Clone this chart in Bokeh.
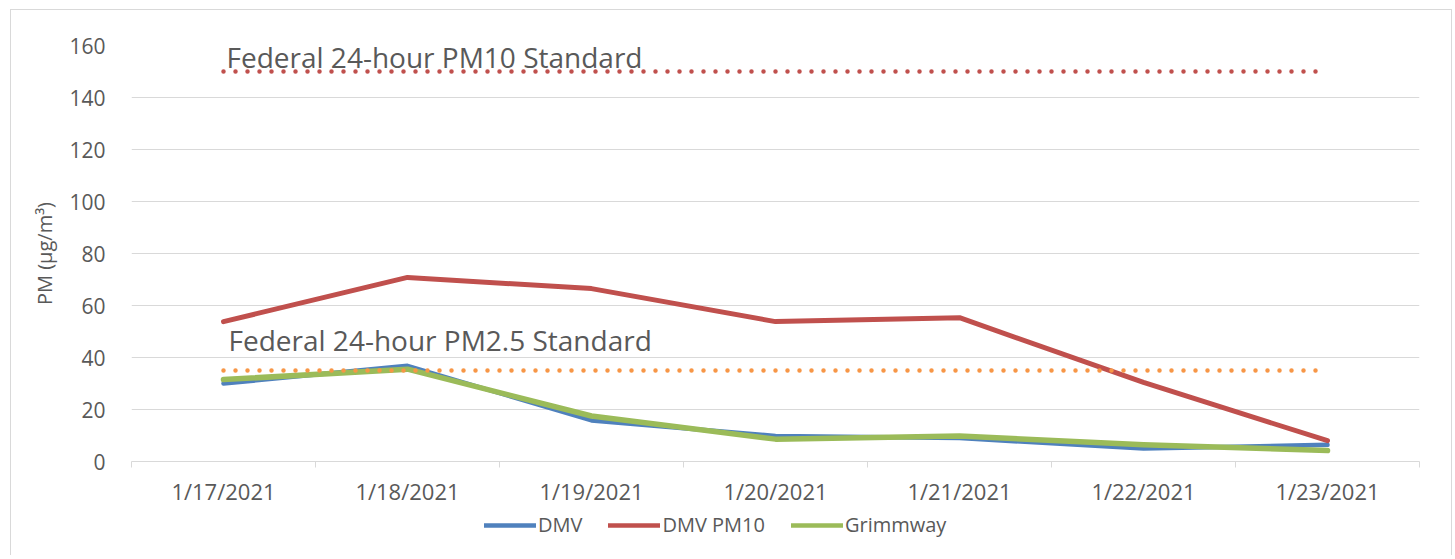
from bokeh.plotting import figure
from bokeh.layouts import column
from bokeh.models import FixedTicker, Legend, LegendItem, Label, InlineStyleSheet, Range1d
from bokeh.embed import file_html
from bokeh.resources import INLINE

dates = ["1/17/2021", "1/18/2021", "1/19/2021", "1/20/2021", "1/21/2021", "1/22/2021", "1/23/2021"]
dmv = [30.0, 36.8, 15.8, 9.8, 9.0, 5.0, 6.4]
dmv_pm10 = [53.8, 70.8, 66.5, 53.8, 55.3, 30.4, 8.0]
grimmway = [31.5, 35.5, 17.5, 8.6, 9.8, 6.4, 4.2]
pm10_standard = 150
pm25_standard = 35
pm10_label = "Federal 24-hour PM10 Standard"
pm25_label = "Federal 24-hour PM2.5 Standard"
series_names = ["DMV", "DMV PM10", "Grimmway"]
y_ticks = [0, 20, 40, 60, 80, 100, 120, 140, 160]

FONT = "Open Sans"
GREY = "#595959"
GRID = "#D9D9D9"
COLORS = ["#4F81BD", "#C0504D", "#9BBB59"]
WIDTHS = [4.5, 5, 5.5]

xs = [i + 0.5 for i in range(len(dates))]
series = [dmv, dmv_pm10, grimmway]

p = figure(frame_width=1288, frame_height=416, output_backend="svg", toolbar_location=None,
           x_range=(0, len(dates)), y_range=(0, 160),
           min_border_left=131, min_border_right=33, min_border_top=45, min_border_bottom=50)
p.outline_line_color = None
p.background_fill_color = "white"
p.border_fill_color = "white"
p.stylesheets = [InlineStyleSheet(css=(
    ":host { position: relative; }"
    ":host::after { content: ''; position: absolute; left: 10px; top: 9px; right: 0px; bottom: 0px;"
    " border: 1px solid #D9D9D9; border-bottom: none; pointer-events: none; }"))]

# x axis
p.xaxis.ticker = FixedTicker(ticks=xs, minor_ticks=list(range(len(dates) + 1)))
p.xaxis.major_label_overrides = {x: d for x, d in zip(xs, dates)}
p.xaxis.major_tick_line_color = None
p.xaxis.major_tick_out = 0
p.xaxis.major_tick_in = 0
p.xaxis.minor_tick_line_color = GRID
p.xaxis.minor_tick_out = 6
p.xaxis.minor_tick_in = 0
p.xaxis.axis_line_color = GRID
p.xaxis.major_label_text_font = FONT
p.xaxis.major_label_text_font_size = "22px"
p.xaxis.major_label_text_color = GREY
p.xaxis.major_label_standoff = 8
p.xgrid.grid_line_color = None

# y axis
p.yaxis.ticker = FixedTicker(ticks=y_ticks)
p.yaxis.axis_line_color = None
p.yaxis.major_tick_line_color = None
p.yaxis.minor_tick_line_color = None
p.yaxis.major_label_text_font = FONT
p.yaxis.major_label_text_font_size = "21px"
p.yaxis.major_label_text_color = GREY
p.yaxis.major_label_standoff = 20
p.yaxis.axis_label = "PM (\u00b5g/m\u00b3)"
p.yaxis.axis_label_text_font = FONT
p.yaxis.axis_label_text_font_size = "20px"
p.yaxis.axis_label_text_font_style = "normal"
p.yaxis.axis_label_text_color = GREY
p.yaxis.axis_label_standoff = 8
p.ygrid.grid_line_color = GRID
p.ygrid.grid_line_width = 1

for vals, c, w in zip(series, COLORS, WIDTHS):
    p.line(xs, vals, line_color=c, line_width=w, line_cap="round", line_join="round")

p.line(xs, [pm10_standard] * len(xs), line_color="#C0504D", line_width=4.5, line_dash="0 12", line_cap="round")
p.line(xs, [pm25_standard] * len(xs), line_color="#F79646", line_width=4.5, line_dash="0 12", line_cap="round")

p.add_layout(Label(x=xs[0], y=pm10_standard, text=pm10_label, x_offset=3, y_offset=15,
                   text_font=FONT, text_font_size="28px", text_color=GREY,
                   text_baseline="middle"))
p.add_layout(Label(x=xs[0], y=pm25_standard, text=pm25_label, x_offset=5, y_offset=31,
                   text_font=FONT, text_font_size="28px", text_color=GREY,
                   text_baseline="middle"))

# legend strip below the chart
lg = figure(width=1452, height=44, output_backend="svg", toolbar_location=None,
            x_range=Range1d(0, 1), y_range=Range1d(0, 1),
            x_axis_location=None, y_axis_location=None,
            min_border_left=0, min_border_right=0, min_border_top=0, min_border_bottom=0)
lg.outline_line_color = None
lg.xgrid.grid_line_color = None
lg.ygrid.grid_line_color = None
lg.border_fill_color = "white"
lg.stylesheets = [InlineStyleSheet(css=(
    ":host { position: relative; }"
    ":host::after { content: ''; position: absolute; left: 10px; top: 0px; right: 0px; bottom: 0px;"
    " border-left: 1px solid #D9D9D9; border-right: 1px solid #D9D9D9; pointer-events: none; }"))]

items = []
for name, vals, c in zip(series_names, series, COLORS):
    r = lg.line(xs, vals, line_color=c, line_width=4.5, line_cap="round", visible=False)
    items.append(LegendItem(label=name, renderers=[r]))

legend = Legend(items=items, orientation="horizontal", location=(353, 17),
                label_text_font=FONT, label_text_font_size="20px", label_text_color=GREY,
                glyph_width=52, label_standoff=2, spacing=26, padding=0, margin=0,
                border_line_color=None, background_fill_alpha=0)
lg.add_layout(legend)

layout = column(p, lg, spacing=0)
open("out.html", "w").write(file_html(layout, INLINE))
